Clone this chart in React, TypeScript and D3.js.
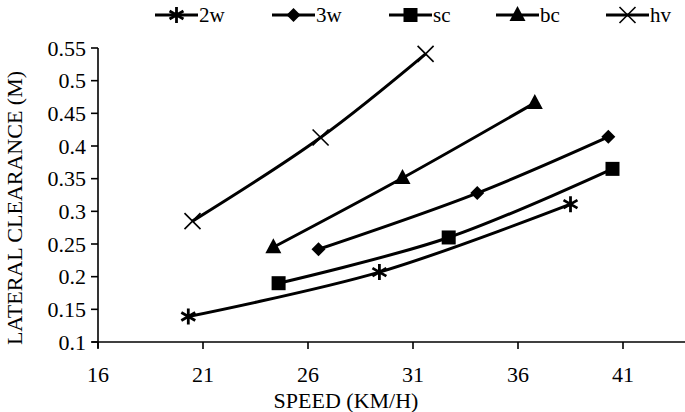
import { useEffect, useRef } from 'react';
import * as d3 from 'd3';

// values
const seriesNames = ['2w', '3w', 'sc', 'bc', 'hv'];
const speed2w = [20.3, 29.4, 38.5];
const clear2w = [0.139, 0.207, 0.311];
const speed3w = [26.5, 34.06, 40.3];
const clear3w = [0.242, 0.328, 0.414];
const speedSc = [24.6, 32.7, 40.5];
const clearSc = [0.19, 0.26, 0.365];
const speedBc = [24.35, 30.5, 36.8];
const clearBc = [0.245, 0.351, 0.466];
const speedHv = [20.5, 26.6, 31.6];
const clearHv = [0.285, 0.413, 0.541];
const xTicks = [16, 21, 26, 31, 36, 41];
const yTicks = [0.1, 0.15, 0.2, 0.25, 0.3, 0.35, 0.4, 0.45, 0.5, 0.55];

const WIDTH = 685;
const HEIGHT = 412;
const FONT = '"Liberation Serif", "Times New Roman", serif';

const App = () => {
  const svgRef = useRef(null);

  useEffect(() => {
    const svg = d3.select(svgRef.current);
    svg.selectAll('*').remove();

    const x = d3.scaleLinear().domain([16, 44]).range([98, 686]);
    const y = d3.scaleLinear().domain([0.1, 0.55]).range([342, 48]);

    const series = [
      { name: seriesNames[0], xs: speed2w, ys: clear2w, marker: 'star' },
      { name: seriesNames[1], xs: speed3w, ys: clear3w, marker: 'diamond' },
      { name: seriesNames[2], xs: speedSc, ys: clearSc, marker: 'square' },
      { name: seriesNames[3], xs: speedBc, ys: clearBc, marker: 'triangle' },
      { name: seriesNames[4], xs: speedHv, ys: clearHv, marker: 'cross' },
    ];

    // draw one marker centred on (0,0) inside g
    const drawMarker = (g, type) => {
      if (type === 'star') {
        const r = 8;
        g.append('path')
          .attr('d', `M0,${-r}V${r}M${-r * 0.87},${-r * 0.5}L${r * 0.87},${r * 0.5}M${-r * 0.87},${r * 0.5}L${r * 0.87},${-r * 0.5}`)
          .attr('stroke', '#000').attr('stroke-width', 2.8).attr('fill', 'none');
      } else if (type === 'diamond') {
        g.append('path').attr('d', 'M0,-7L7,0L0,7L-7,0Z').attr('fill', '#000');
      } else if (type === 'square') {
        g.append('rect').attr('x', -7).attr('y', -7).attr('width', 14).attr('height', 14).attr('fill', '#000');
      } else if (type === 'triangle') {
        g.append('path').attr('d', 'M0,-9L8,6L-8,6Z').attr('fill', '#000');
      } else {
        const r = 8;
        g.append('path')
          .attr('d', `M${-r},${-r}L${r},${r}M${-r},${r}L${r},${-r}`)
          .attr('stroke', '#000').attr('stroke-width', 1.6).attr('fill', 'none');
      }
    };

    // axes
    const axes = svg.append('g').attr('stroke', '#000').attr('stroke-width', 1.6);
    axes.append('line').attr('x1', 98).attr('x2', 98).attr('y1', y(0.55)).attr('y2', y(0.1) + 6);
    axes.append('line').attr('x1', 92).attr('x2', 685).attr('y1', y(0.1)).attr('y2', y(0.1));
    axes.selectAll('.yt').data(yTicks).join('line')
      .attr('x1', 91).attr('x2', 98).attr('y1', d => y(d)).attr('y2', d => y(d));
    axes.selectAll('.xt').data(xTicks).join('line')
      .attr('x1', d => x(d)).attr('x2', d => x(d)).attr('y1', y(0.1)).attr('y2', y(0.1) + 7);

    svg.append('g').selectAll('text').data(yTicks).join('text')
      .attr('x', 86).attr('y', d => y(d)).attr('dy', '0.35em')
      .attr('text-anchor', 'end')
      .style('font', `22px ${FONT}`)
      .text(d => d3.format('')(d));

    svg.append('g').selectAll('text').data(xTicks).join('text')
      .attr('x', d => x(d)).attr('y', 382)
      .attr('text-anchor', 'middle')
      .style('font', `22px ${FONT}`)
      .text(d => d);

    svg.append('text').attr('x', 346).attr('y', 408).attr('text-anchor', 'middle')
      .style('font', `22px ${FONT}`).text('SPEED (KM/H)');

    svg.append('text').attr('transform', 'translate(22,208) rotate(-90)').attr('text-anchor', 'middle')
      .style('font', `22px ${FONT}`).text('LATERAL CLEARANCE (M)');

    // series lines, smoothed like the spreadsheet original
    const line = d3.line().curve(d3.curveCatmullRom.alpha(0.5));
    series.forEach(s => {
      const pts = s.xs.map((v, i) => [x(v), y(s.ys[i])]);
      svg.append('path').attr('d', line(pts))
        .attr('fill', 'none').attr('stroke', '#000').attr('stroke-width', 3);
      pts.forEach(p => drawMarker(svg.append('g').attr('transform', `translate(${p[0]},${p[1]})`), s.marker));
    });

    // legend
    const legendX = [155, 272, 389, 496, 606];
    series.forEach((s, i) => {
      const g = svg.append('g').attr('transform', `translate(${legendX[i]},15)`);
      g.append('line').attr('x1', 0).attr('x2', 43).attr('y1', 0).attr('y2', 0)
        .attr('stroke', '#000').attr('stroke-width', 3);
      drawMarker(g.append('g').attr('transform', 'translate(21.5,0)'), s.marker);
      g.append('text').attr('x', 44).attr('y', 0).attr('dy', '0.35em')
        .style('font', `21px ${FONT}`).text(s.name);
    });
  }, []);

  return (
    <div style={{ position: 'absolute', left: 0, top: 0, width: WIDTH, height: HEIGHT, background: '#fff' }}>
      <svg ref={svgRef} width={WIDTH} height={HEIGHT} />
    </div>
  );
};

export default App;
